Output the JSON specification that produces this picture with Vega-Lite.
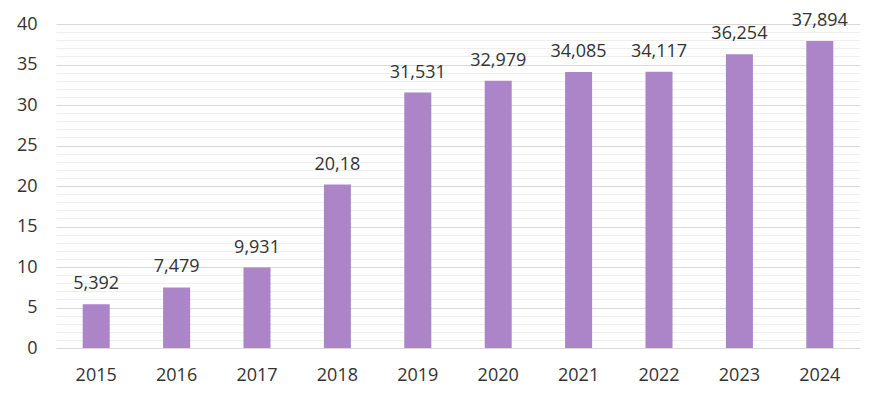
{
  "$schema": "https://vega.github.io/schema/vega-lite/v6.json",
  "width": 804,
  "height": 324,
  "autosize": {"type": "none"},
  "padding": {"left": 56, "top": 24, "right": 24, "bottom": 55},
  "background": "white",
  "config": {
    "view": {"stroke": null},
    "font": "Open Sans",
    "locale": {"number": {"decimal": ",", "thousands": ".", "grouping": [3], "currency": ["", ""]}}
  },
  "data": {
    "values": [
      {"year": "2015", "value": 5.392},
      {"year": "2016", "value": 7.479},
      {"year": "2017", "value": 9.931},
      {"year": "2018", "value": 20.18},
      {"year": "2019", "value": 31.531},
      {"year": "2020", "value": 32.979},
      {"year": "2021", "value": 34.085},
      {"year": "2022", "value": 34.117},
      {"year": "2023", "value": 36.254},
      {"year": "2024", "value": 37.894}
    ]
  },
  "encoding": {
    "x": {
      "field": "year",
      "type": "ordinal",
      "scale": {"paddingInner": 0.664, "paddingOuter": 0.332},
      "axis": {
        "title": null,
        "labelAngle": 0,
        "ticks": false,
        "domain": false,
        "labelFontSize": 18,
        "labelColor": "#333333",
        "labelPadding": 18
      }
    }
  },
  "layer": [
    {
      "mark": {"type": "bar", "color": "#AB85C7"},
      "encoding": {
        "y": {
          "field": "value",
          "type": "quantitative",
          "scale": {"domain": [0, 40], "nice": false},
          "axis": {
            "title": null,
            "values": [0, 5, 10, 15, 20, 25, 30, 35, 40],
            "grid": true,
            "gridColor": "#D9D9D9",
            "domain": false,
            "ticks": false,
            "labelPadding": 19,
            "labelFontSize": 18,
            "labelColor": "#333333"
          }
        }
      }
    },
    {
      "mark": {"type": "text", "dy": -15, "baseline": "alphabetic", "fontSize": 18, "color": "#333333"},
      "encoding": {
        "y": {
          "field": "value",
          "type": "quantitative",
          "axis": {
            "orient": "right",
            "title": null,
            "values": [1, 2, 3, 4, 6, 7, 8, 9, 11, 12, 13, 14, 16, 17, 18, 19, 21, 22, 23, 24, 26, 27, 28, 29, 31, 32, 33, 34, 36, 37, 38, 39],
            "grid": true,
            "gridColor": "#EEEEEE",
            "labels": false,
            "ticks": false,
            "domain": false
          }
        },
        "text": {"field": "value", "type": "quantitative", "format": ".3~f"}
      }
    }
  ],
  "resolve": {"axis": {"y": "independent"}}
}
